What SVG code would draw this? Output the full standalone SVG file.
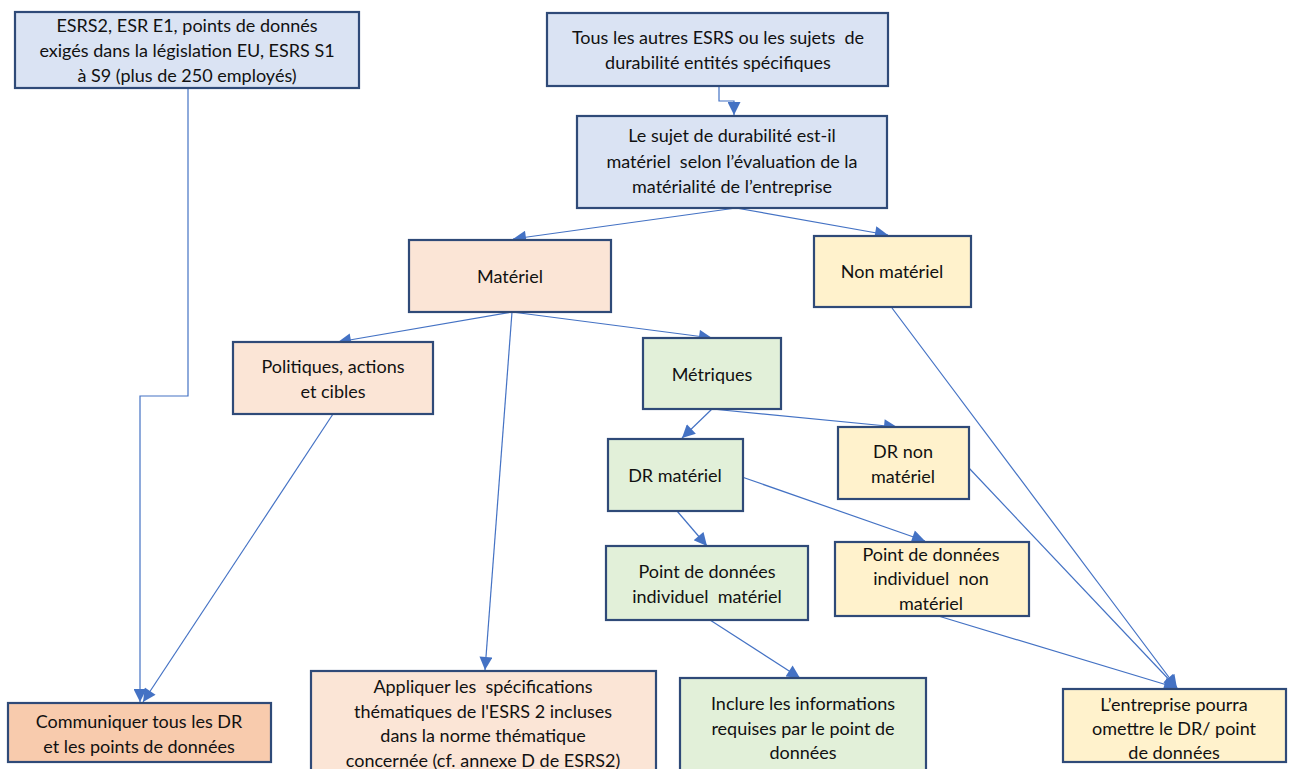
<svg xmlns="http://www.w3.org/2000/svg" width="1290" height="769" viewBox="0 0 1290 769">
<style>
.box{stroke:#2F4A78;stroke-width:2.2}
.blue{fill:#DAE3F3}
.peach{fill:#FBE5D6}
.orange{fill:#F8CBAD}
.yellow{fill:#FFF2CC}
.green{fill:#E2F0D9}
text{font-family:Lato,"Open Sans","Liberation Sans",sans-serif;font-size:18px;fill:#111;text-anchor:middle;dominant-baseline:central;white-space:pre}
.conn{fill:none;stroke:#4472C4;stroke-width:1.2}
</style>
<defs>
<marker id="arr" viewBox="0 0 10 10" markerWidth="15" markerHeight="13" refX="10" refY="5" orient="auto" markerUnits="userSpaceOnUse">
<path d="M0,0 L10,5 L0,10 z" fill="#4472C4"/>
</marker>
</defs>
<rect width="1290" height="769" fill="#fff"/>
<g id="connectors">
<path class="conn" d="M188,88 V396 H140 V702" marker-end="url(#arr)"/>
<path class="conn" d="M719,86 V101 H734 V115" marker-end="url(#arr)"/>
<path class="conn" d="M736,208 L513,239" marker-end="url(#arr)"/>
<path class="conn" d="M736,208 L888,235" marker-end="url(#arr)"/>
<path class="conn" d="M512,312 L338,342" marker-end="url(#arr)"/>
<path class="conn" d="M512,312 L712,338" marker-end="url(#arr)"/>
<path class="conn" d="M512,312 L485,670" marker-end="url(#arr)"/>
<path class="conn" d="M333,414 L143,702" marker-end="url(#arr)"/>
<path class="conn" d="M712,409 L682,438" marker-end="url(#arr)"/>
<path class="conn" d="M712,409 L897,427" marker-end="url(#arr)"/>
<path class="conn" d="M742,477 L925,541" marker-end="url(#arr)"/>
<path class="conn" d="M677,511 L707,546" marker-end="url(#arr)"/>
<path class="conn" d="M710,620 L800,678" marker-end="url(#arr)"/>
<path class="conn" d="M892,308 L1177,688" marker-end="url(#arr)"/>
<path class="conn" d="M968,467 L1177,688" marker-end="url(#arr)"/>
<path class="conn" d="M935,615 L1177,688" marker-end="url(#arr)"/>
</g>
<g id="esrs2">
<rect class="box blue" x="15" y="12" width="344" height="76"/>
<text x="187" y="25">ESRS2, ESR E1, points de donnés</text>
<text x="187" y="50">exigés dans la législation EU, ESRS S1</text>
<text x="187" y="75">à S9 (plus de 250 employés)</text>
</g>
<g id="autres">
<rect class="box blue" x="547" y="13" width="341" height="73"/>
<text x="718" y="37">Tous les autres ESRS ou les sujets  de</text>
<text x="718" y="62">durabilité entités spécifiques</text>
</g>
<g id="sujet">
<rect class="box blue" x="577" y="116" width="310" height="92"/>
<text x="732" y="135">Le sujet de durabilité est-il</text>
<text x="732" y="161">matériel  selon l’évaluation de la</text>
<text x="732" y="186">matérialité de l’entreprise</text>
</g>
<g id="materiel">
<rect class="box peach" x="409" y="240" width="202" height="72"/>
<text x="510" y="276">Matériel</text>
</g>
<g id="non-materiel">
<rect class="box yellow" x="814" y="236" width="157" height="71"/>
<text x="892" y="271">Non matériel</text>
</g>
<g id="politiques">
<rect class="box peach" x="233" y="342" width="200" height="72"/>
<text x="333" y="366">Politiques, actions</text>
<text x="333" y="391">et cibles</text>
</g>
<g id="metriques">
<rect class="box green" x="643" y="338" width="138" height="71"/>
<text x="712" y="374">Métriques</text>
</g>
<g id="dr-materiel">
<rect class="box green" x="608" y="439" width="135" height="72"/>
<text x="675" y="475">DR matériel</text>
</g>
<g id="dr-non-materiel">
<rect class="box yellow" x="838" y="427" width="131" height="72"/>
<text x="903" y="451">DR non</text>
<text x="903" y="476">matériel</text>
</g>
<g id="point-materiel">
<rect class="box green" x="606" y="546" width="202" height="74"/>
<text x="707" y="571">Point de données</text>
<text x="707" y="596">individuel  matériel</text>
</g>
<g id="point-non-materiel">
<rect class="box yellow" x="835" y="542" width="194" height="74"/>
<text x="931" y="554">Point de données</text>
<text x="931" y="578">individuel  non</text>
<text x="931" y="603">matériel</text>
</g>
<g id="communiquer">
<rect class="box orange" x="8" y="703" width="263" height="59"/>
<text x="139" y="721">Communiquer tous les DR</text>
<text x="139" y="746">et les points de données</text>
</g>
<g id="appliquer">
<rect class="box peach" x="311" y="671" width="345" height="100"/>
<text x="483" y="686">Appliquer les  spécifications</text>
<text x="483" y="711">thématiques de l'ESRS 2 incluses</text>
<text x="483" y="735">dans la norme thématique</text>
<text x="483" y="760">concernée (cf. annexe D de ESRS2)</text>
</g>
<g id="inclure">
<rect class="box green" x="680" y="678" width="246" height="94"/>
<text x="803" y="703">Inclure les informations</text>
<text x="803" y="728">requises par le point de</text>
<text x="803" y="752">données</text>
</g>
<g id="entreprise">
<rect class="box yellow" x="1063" y="689" width="223" height="73"/>
<text x="1174" y="704">L’entreprise pourra</text>
<text x="1174" y="728">omettre le DR/ point</text>
<text x="1174" y="752">de données</text>
</g>
</svg>
